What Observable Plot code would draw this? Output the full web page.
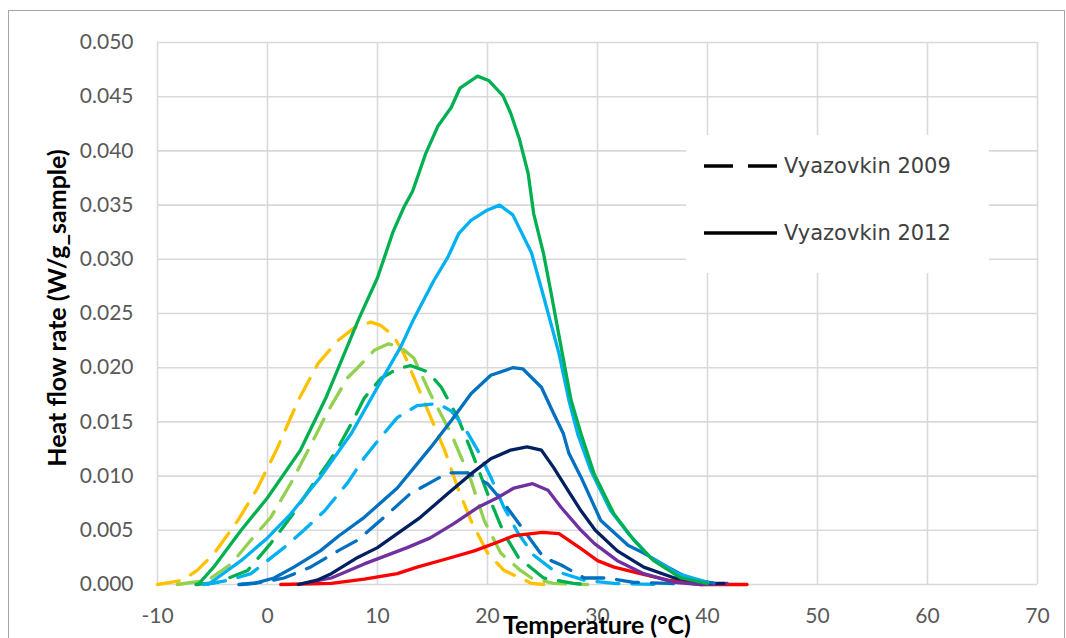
<!DOCTYPE html>
<html>
<head>
<meta charset="utf-8">
<script src="https://cdn.jsdelivr.net/npm/d3@7"></script>
<script src="https://cdn.jsdelivr.net/npm/@observablehq/plot@0.6"></script>
<style>
  html, body { margin: 0; padding: 0; background: #fff; overflow: hidden; }
  #wrap { position: relative; width: 1066px; height: 638px; }
  #frame { position: absolute; left: 8px; top: 10px; width: 1057px; height: 700px; border: 1px solid #a6a6a6; box-sizing: border-box; }
  #chart { position: absolute; left: 0; top: 0; }
  #legend { position: absolute; left: 686px; top: 135px; width: 303px; height: 138px; background: #fff; }
</style>
</head>
<body>
<div id="wrap">
  <div id="frame"></div>
  <div id="chart"></div>
  <div id="legend"></div>
</div>
<script>
// ---- tick labels ----
const xTicks = [-10, 0, 10, 20, 30, 40, 50, 60, 70];
const yTicks = [0, 0.005, 0.010, 0.015, 0.020, 0.025, 0.030, 0.035, 0.040, 0.045, 0.050];

// ---- Vyazovkin 2009 (dashed) : [Temperature °C, heat flow W/g] ----
const v09_yellow = [[-10,0],[-7.7,0.0004],[-6.4,0.0013],[-4.9,0.0028],[-2.7,0.0059],[-0.9,0.0089],[0.9,0.0126],[2.8,0.0170],[4.6,0.0204],[6.4,0.0225],[7.9,0.0237],[9.4,0.0242],[10.3,0.0239],[11.4,0.0230],[12.4,0.0213],[14.6,0.0160],[16.1,0.0124],[17.3,0.0089],[18.5,0.0059],[20.0,0.0029],[21.5,0.0013],[23.0,0.0006],[24.0,0.0001],[25.1,0]];
const v09_lightgreen = [[-8.2,0],[-5.4,0.0004],[-3.3,0.0019],[-1.5,0.0041],[0.3,0.0062],[2.1,0.0093],[3.7,0.0124],[5.5,0.0160],[7.3,0.0191],[8.2,0.0200],[9.7,0.0216],[11.0,0.0222],[12.1,0.0219],[13.3,0.0209],[14.8,0.0176],[16.7,0.0139],[18.5,0.0096],[19.7,0.0059],[21.2,0.0029],[23.0,0.0013],[24.0,0.0006],[26.0,0.0001],[29.1,0]];
const v09_green = [[-6.5,0],[-4.5,0.0002],[-1.8,0.0013],[0.3,0.0038],[2.1,0.0062],[3.9,0.0089],[5.5,0.0112],[6.4,0.0126],[7.6,0.0148],[8.8,0.0172],[10.3,0.0190],[11.8,0.0199],[13.0,0.0202],[14.6,0.0196],[15.8,0.0182],[17.3,0.0154],[18.5,0.0124],[20.0,0.0084],[21.5,0.0047],[22.8,0.0025],[25.1,0.0006],[27.8,0.0001],[29.0,0]];
const v09_lightblue = [[-5.8,0],[-3.5,0.0004],[-1.5,0.0010],[0.0,0.0022],[1.5,0.0034],[3.3,0.0050],[5.2,0.0068],[7.3,0.0094],[8.8,0.0117],[10.3,0.0136],[11.8,0.0154],[13.6,0.0165],[15.5,0.0167],[16.7,0.0160],[17.9,0.0145],[19.1,0.0124],[20.3,0.0099],[21.5,0.0071],[22.8,0.0047],[24.2,0.0027],[26.0,0.0013],[28.8,0.0004],[31.5,0.0001],[35.8,0]];
const v09_blue = [[-2.6,0],[-0.5,0.0002],[1.5,0.0006],[3.9,0.0016],[6.4,0.0031],[8.2,0.0041],[10.6,0.0062],[13.0,0.0084],[14.8,0.0094],[16.4,0.0103],[18.2,0.0103],[20.0,0.0093],[21.5,0.0075],[22.8,0.0057],[25.1,0.0025],[26.7,0.0018],[28.8,0.0006],[30.9,0.0006],[33.3,0.0002],[36.5,0.0001],[38.0,0]];

// ---- Vyazovkin 2012 (solid) ----
const v12_green = [[-6.3,0],[-4.9,0.0016],[-2.4,0.0050],[0.0,0.0080],[3.0,0.0124],[5.3,0.0172],[8.3,0.0245],[10.0,0.0283],[11.4,0.0325],[12.4,0.0348],[13.2,0.0363],[14.4,0.0398],[15.5,0.0423],[16.7,0.0440],[17.5,0.0458],[19.1,0.0469],[20.1,0.0465],[21.4,0.0451],[22.1,0.0435],[22.9,0.0411],[23.7,0.0379],[24.2,0.0342],[25.1,0.0305],[25.8,0.0268],[26.8,0.0213],[27.6,0.0170],[28.5,0.0139],[29.7,0.0102],[31.5,0.0065],[33.3,0.0041],[35.1,0.0022],[37.6,0.0006],[40.0,0.0001]];
const v12_lightblue = [[-5.4,0],[-2.4,0.0022],[0.0,0.0043],[2.1,0.0065],[4.8,0.0099],[7.6,0.0139],[10.0,0.0182],[12.1,0.0219],[13.3,0.0245],[15.1,0.0280],[16.4,0.0302],[17.4,0.0324],[18.5,0.0336],[19.9,0.0345],[21.1,0.0350],[22.3,0.0341],[24.0,0.0306],[25.2,0.0262],[26.5,0.0213],[27.4,0.0170],[28.2,0.0139],[29.4,0.0105],[31.2,0.0068],[32.8,0.0047],[34.8,0.0025],[37.3,0.0010],[40.0,0.0002]];
const v12_blue = [[-2.4,0],[-1.2,0.0001],[0.6,0.0006],[2.4,0.0016],[4.8,0.0031],[6.5,0.0045],[8.8,0.0062],[11.8,0.0089],[14.8,0.0126],[16.7,0.0151],[18.5,0.0176],[20.3,0.0193],[22.3,0.0200],[23.2,0.0199],[24.9,0.0182],[26.0,0.0158],[26.9,0.0139],[27.4,0.0121],[28.5,0.0099],[30.3,0.0059],[32.8,0.0036],[34.2,0.0029],[36.4,0.0016],[38.2,0.0006],[40.6,0.0001]];
const v12_navy = [[2.8,0],[4.5,0.0004],[5.8,0.0010],[8.2,0.0025],[10.0,0.0034],[11.8,0.0047],[13.9,0.0062],[16.4,0.0084],[18.5,0.0102],[20.3,0.0116],[22.1,0.0124],[23.6,0.0127],[24.9,0.0124],[26.0,0.0108],[27.3,0.0087],[28.5,0.0068],[29.8,0.0050],[31.8,0.0031],[34.2,0.0016],[37.0,0.0006],[40.6,0.0001],[41.5,0.0001]];
const v12_purple = [[2.8,0],[5.8,0.0006],[8.8,0.0019],[12.7,0.0034],[14.8,0.0043],[16.9,0.0056],[19.1,0.0071],[20.9,0.0080],[22.4,0.0089],[24.1,0.0093],[25.5,0.0087],[26.7,0.0071],[28.5,0.0050],[29.7,0.0038],[31.8,0.0022],[34.2,0.0010],[37.0,0.0002],[39.4,0],[41.8,0.0001]];
const v12_red = [[1.2,0],[5.8,0.0001],[8.8,0.0005],[11.8,0.0010],[13.6,0.0016],[16.4,0.0024],[18.8,0.0031],[20.9,0.0039],[22.4,0.0045],[25.0,0.0048],[26.5,0.0047],[28.5,0.0033],[30.0,0.0022],[31.5,0.0016],[33.9,0.0010],[36.4,0.0004],[39.4,0],[43.6,0]];

const series2009 = [v09_yellow, v09_lightgreen, v09_green, v09_lightblue, v09_blue];
const colors2009 = ["#FFC000", "#92D050", "#00B050", "#00B0F0", "#0070C0"];
const series2012 = [v12_red, v12_purple, v12_navy, v12_blue, v12_lightblue, v12_green];
const colors2012 = ["#FF0000", "#7030A0", "#002060", "#0070C0", "#00B0F0", "#00B050"];
const legendLabels = ["Vyazovkin 2009", "Vyazovkin 2012"];

const dashedMarks = series2009.map((s, i) => Plot.line(s, {x: d => d[0], y: d => d[1], stroke: colors2009[i], strokeWidth: 3.3, strokeDasharray: "22,13", strokeLinecap: "round"}));
const solidMarks = series2012.map((s, i) => Plot.line(s, {x: d => d[0], y: d => d[1], stroke: colors2012[i], strokeWidth: 3.3}));

const chart = Plot.plot({
  width: 1066, height: 638,
  marginLeft: 157, marginRight: 29, marginTop: 42, marginBottom: 54,
  style: {fontFamily: "Lato, 'Open Sans', sans-serif", fontSize: "21px", color: "#595959", background: "transparent", overflow: "visible"},
  x: {domain: [-10, 70]},
  y: {domain: [0, 0.05]},
  marks: [
    Plot.gridX(xTicks, {stroke: "#d9d9d9", strokeOpacity: 1, strokeWidth: 1.6}),
    Plot.gridY(yTicks, {stroke: "#d9d9d9", strokeOpacity: 1, strokeWidth: 1.6}),
    Plot.axisX(xTicks, {tickSize: 0, tickPadding: 24, label: null, tickFormat: d => String(d), fontSize: 21}),
    Plot.axisY(yTicks, {tickSize: 0, tickPadding: 24, label: null, tickFormat: d => d.toFixed(3), fontSize: 21}),
    ...dashedMarks,
    ...solidMarks
  ]
});
document.getElementById("chart").appendChild(chart);

// axis titles
const svg = d3.select(chart);
const xs = chart.scale("x"), ys = chart.scale("y");
svg.append("text")
  .attr("x", (xs.apply(-10) + xs.apply(70)) / 2)
  .attr("y", 634)
  .attr("text-anchor", "middle")
  .attr("font-family", "Lato, sans-serif").attr("font-weight", "bold").attr("font-size", 25)
  .attr("fill", "#000")
  .text("Temperature (°C)");
svg.append("text")
  .attr("transform", `translate(66,${(ys.apply(0) + ys.apply(0.05)) / 2 - 5}) rotate(-90)`)
  .attr("text-anchor", "middle")
  .attr("font-family", "Lato, sans-serif").attr("font-weight", "bold").attr("font-size", 25)
  .attr("fill", "#000")
  .text("Heat flow rate (W/g_sample)");

// legend
const lg = d3.select("#legend").append("svg").attr("width", 303).attr("height", 138);
[["29,15", 31], [null, 98]].forEach(([dash, yy], i) => {
  const ln = lg.append("line").attr("x1", 18).attr("x2", 91).attr("y1", yy).attr("y2", yy)
    .attr("stroke", "#000").attr("stroke-width", 3.5);
  if (dash) ln.attr("stroke-dasharray", dash);
  lg.append("text").attr("x", 98).attr("y", yy + 7)
    .attr("font-family", "'DejaVu Sans', sans-serif").attr("font-size", 21).attr("fill", "#404040")
    .text(legendLabels[i]);
});
</script>
</body>
</html>
